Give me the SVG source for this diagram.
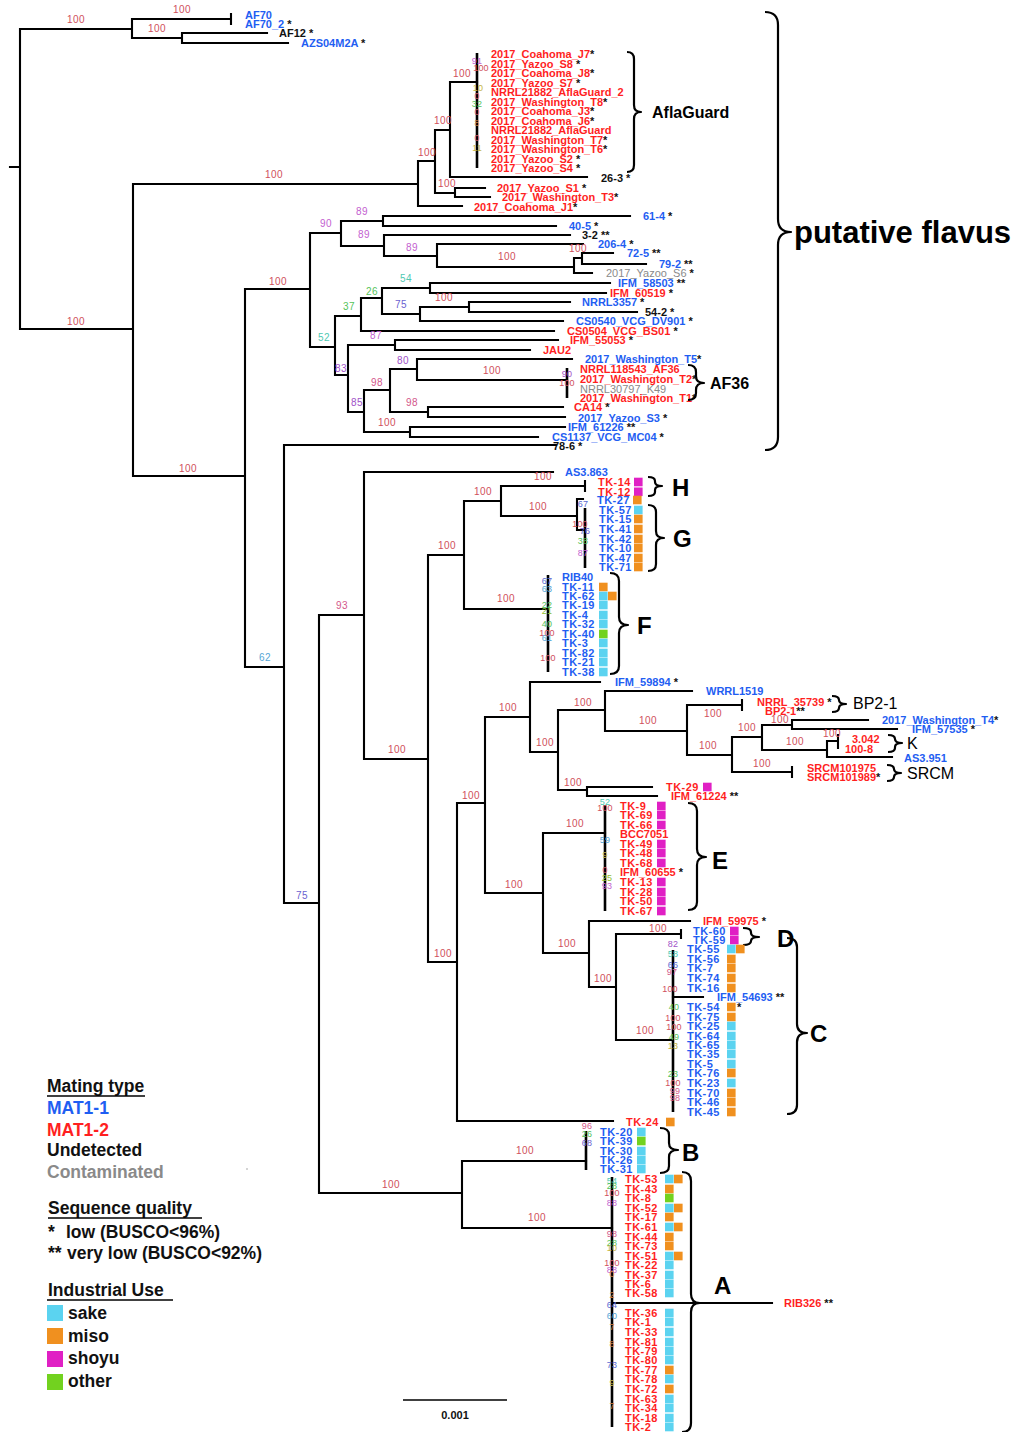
<svg xmlns="http://www.w3.org/2000/svg" xmlns:xlink="http://www.w3.org/1999/xlink" width="1021" height="1432" viewBox="0 0 1021 1432">
<style>
.l{font-family:"Liberation Sans",Arial,Helvetica,sans-serif;font-weight:bold;font-size:11px}
g[id^="n_TK"] text{letter-spacing:0.45px}
.lg{font-family:"Liberation Sans",Arial,Helvetica,sans-serif;font-size:11px;fill:#8a8a8a}
.b{fill:#1f5ef2}.r{fill:#ff1f1f}.k{fill:#111}.gy{fill:#8a8a8a}
.bs{font-family:"Liberation Sans",Arial,Helvetica,sans-serif;font-size:10px;text-anchor:middle;letter-spacing:0.5px}
.in .bs{font-size:9px;letter-spacing:0.2px}
.c0{fill:#d0505c}.pu{fill:#c35fd0}.vi{fill:#6a5fd0}.pp{fill:#a052c8}.pk{fill:#d3588a}.te{fill:#4fc9b2}.gr{fill:#55c35a}.lb{fill:#56a6d6}.bl{fill:#5a6ad2}.ol{fill:#c4b445}.or{fill:#d5803e}.yg{fill:#90c030}
.sk{fill:#5bd3f0}.mi{fill:#f0901f}.sh{fill:#e020c4}.ot{fill:#72d21f}
.tr{fill:none;stroke:#000;stroke-width:2.1;stroke-linecap:square}
.cl{fill:none;stroke:#000;stroke-width:2.6}
.br{fill:none;stroke:#000;stroke-width:2.2;stroke-linejoin:round}
.cap{font-family:"Liberation Sans",Arial,Helvetica,sans-serif;font-weight:bold;font-size:24px;fill:#000}
.cap2{font-family:"Liberation Sans",Arial,Helvetica,sans-serif;font-size:16px;fill:#000}
.cap3{font-family:"Liberation Sans",Arial,Helvetica,sans-serif;font-weight:bold;font-size:16px;fill:#000}
.lgd{font-family:"Liberation Sans",Arial,Helvetica,sans-serif;font-weight:bold;font-size:17.5px}
</style>
<defs><rect id="sq" width="8.6" height="8.6"/><rect id="lsq" width="16" height="16"/></defs>
<rect width="1021" height="1432" fill="#fff"/>

<g id="connectors">
<path class="tr" d="M10 167H20M20 29V329M20 29H132M132 19V38M132 19H231M231 14V24M132 38H182M182 33V43M182 33H267M182 43H288M20 329H133M133 184V476M133 184H418M418 161V206M418 161H435M435 130V193M435 130H450M450 82V177M450 82H477M450 177H587M435 193H455M455 188V197M455 188H485M455 197H490M418 206H462
M133 476H245M245 289V667M245 289H310M310 233V347M310 233H341M341 221V246M341 221H383M383 216V226M383 216H630M383 226H556M341 246H384M384 235V256M384 235H570M384 256H437M437 244V267M437 244H583M437 267H574M574 258V273M574 258H582M582 253V264M582 253H613M582 264H646M574 273H592
M310 347H335M335 316V375M335 316H361M361 298V331M361 298H382M382 288V314M382 288H430M430 283V293M430 283H610M430 293H606M382 314H420M420 307V321M420 307H469M469 302V312M469 302H570M469 312H637M420 321H563M361 331H554
M335 375H348M348 345V412M348 345H395M395 340V350M395 340H558M395 350H530M348 412H364M364 390V432M364 390H390M390 369V412M390 369H417M417 359V380M417 359H572M417 380H567M390 412H428M428 407V417M428 407H563M428 417H565M364 432H410M410 427V437M410 427H565M410 437H538
M245 667H284M284 445V903M284 445H556M284 903H319M319 615V1193M319 615H364M364 472V759M364 472H553M364 759H428M428 555V962M428 555H464M464 501V609M464 501H501M501 486V516M501 486H585M585 481V491M501 516H577M577 499V530M577 499H583M577 530H585M464 609H548
M428 962H457M457 803V1121M457 803H485M485 717V893M485 717H530M530 682V752M530 682H600M530 752H558M558 710V790M558 710H605M605 691V731M605 691H692M605 731H687M687 705V755M687 705H742M742 700V710M687 755H732M732 737V772M732 737H762M762 725V750M762 725H792M792 720V729M792 720H868M792 729H897M762 750H827M827 741V757M827 741H838M838 735V748M827 757H892M732 772H792M792 767V777M558 790H587M587 787V796M587 787H652M587 796H657
M485 893H543M543 833V953M543 833H605M543 953H589M589 921V987M589 921H690M589 987H616M616 934V1040M616 934H681M681 930V938M616 1040H673M673 997H703M457 1121H613M319 1193H462M462 1161V1228M462 1161H586M462 1228H612M612 1303H772"/>
<path class="cl" d="M477 53V168M567 368V398M585 508V568M548 575V672M605 805V911M673 950V1112M586 1131V1170M612 1177V1427"/>
<line x1="403" y1="1400" x2="507" y2="1400" stroke="#000" stroke-width="1.6"/>
</g>

<g id="support-values">
<text class="bs c0" x="182" y="12.5">100</text><text class="bs c0" x="157" y="31.5">100</text><text class="bs c0" x="76" y="22.5">100</text><text class="bs c0" x="76" y="324.5">100</text>
<text class="bs c0" x="274" y="177.5">100</text><text class="bs c0" x="427" y="155.5">100</text><text class="bs c0" x="443" y="123.5">100</text><text class="bs c0" x="462" y="76.5">100</text><text class="bs c0" x="447" y="186.5">100</text>
<text class="bs c0" x="188" y="471.5">100</text><text class="bs c0" x="278" y="284.5">100</text><text class="bs pu" x="326" y="226.5">90</text><text class="bs pu" x="362" y="214.5">89</text><text class="bs pu" x="364" y="237.5">89</text><text class="bs pu" x="412" y="250.5">89</text><text class="bs c0" x="507" y="259.5">100</text><text class="bs c0" x="578" y="251.5">100</text>
<text class="bs te" x="324" y="340.5">52</text><text class="bs gr" x="349" y="309.5">37</text><text class="bs gr" x="372" y="294.5">26</text><text class="bs te" x="406" y="281.5">54</text><text class="bs vi" x="401" y="307.5">75</text><text class="bs c0" x="444" y="300.5">100</text>
<text class="bs pu" x="376" y="338.5">87</text><text class="bs pp" x="341" y="371.5">83</text><text class="bs pp" x="357" y="405.5">85</text><text class="bs pk" x="377" y="385.5">98</text><text class="bs pp" x="403" y="363.5">80</text><text class="bs c0" x="492" y="373.5">100</text><text class="bs pk" x="412" y="405.5">98</text><text class="bs c0" x="387" y="425.5">100</text>
<text class="bs lb" x="265" y="660.5">62</text><text class="bs vi" x="302" y="898.5">75</text><text class="bs pk" x="342" y="608.5">93</text><text class="bs c0" x="397" y="752.5">100</text><text class="bs c0" x="447" y="548.5">100</text><text class="bs c0" x="483" y="494.5">100</text><text class="bs c0" x="543" y="479.5">100</text><text class="bs c0" x="538" y="509.5">100</text><text class="bs c0" x="506" y="601.5">100</text>
<text class="bs c0" x="443" y="956.5">100</text><text class="bs c0" x="471" y="798.5">100</text><text class="bs c0" x="508" y="710.5">100</text><text class="bs c0" x="545" y="745.5">100</text><text class="bs c0" x="583" y="705.5">100</text><text class="bs c0" x="648" y="723.5">100</text><text class="bs c0" x="713" y="716.5">100</text><text class="bs c0" x="708" y="748.5">100</text><text class="bs c0" x="747" y="730.5">100</text><text class="bs c0" x="780" y="722.5">100</text><text class="bs c0" x="795" y="744.5">100</text><text class="bs c0" x="832" y="736.5">100</text><text class="bs c0" x="762" y="766.5">100</text><text class="bs c0" x="573" y="785.5">100</text>
<text class="bs c0" x="514" y="887.5">100</text><text class="bs c0" x="575" y="826.5">100</text><text class="bs c0" x="567" y="946.5">100</text><text class="bs c0" x="603" y="981.5">100</text><text class="bs c0" x="658" y="931.5">100</text><text class="bs c0" x="645" y="1033.5">100</text><text class="bs c0" x="391" y="1187.5">100</text><text class="bs c0" x="525" y="1153.5">100</text><text class="bs c0" x="537" y="1220.5">100</text>
<g class="in">
<text class="bs pu" x="477" y="63.5">91</text><text class="bs c0" x="481" y="70.5">100</text><text class="bs ol" x="478" y="90.5">10</text><text class="bs c0" x="477" y="98.5">0</text><text class="bs gr" x="477" y="106.5">32</text><text class="bs c0" x="477" y="114.5">0</text><text class="bs or" x="477" y="125.5">8</text><text class="bs c0" x="477" y="140.5">0</text><text class="bs ol" x="477" y="150.5">11</text>
<text class="bs pp" x="567" y="376.5">90</text><text class="bs c0" x="567" y="385.5">100</text>
<text class="bs bl" x="583" y="506.5">67</text><text class="bs c0" x="580" y="526.5">100</text><text class="bs vi" x="585" y="533.5">76</text><text class="bs gr" x="583" y="543.5">38</text><text class="bs pu" x="583" y="555.5">87</text>
<text class="bs bl" x="547" y="583.5">67</text><text class="bs lb" x="547" y="591.5">63</text><text class="bs gr" x="547" y="607.5">22</text><text class="bs yg" x="547" y="613.5">21</text><text class="bs gr" x="547" y="626.5">40</text><text class="bs c0" x="547" y="635.5">100</text><text class="bs lb" x="547" y="640.5">61</text><text class="bs c0" x="548" y="660.5">100</text>
<text class="bs te" x="605" y="804.5">52</text><text class="bs c0" x="605" y="810.5">100</text><text class="bs lb" x="605" y="842.5">59</text><text class="bs ol" x="605" y="857.5">9</text><text class="bs c0" x="605" y="872.5">0</text><text class="bs yg" x="607" y="880.5">25</text><text class="bs pu" x="607" y="888.5">93</text>
<text class="bs pp" x="673" y="946.5">82</text><text class="bs te" x="673" y="956.5">58</text><text class="bs bl" x="673" y="967.5">66</text><text class="bs pk" x="672" y="974.5">97</text><text class="bs c0" x="670" y="991.5">100</text><text class="bs gr" x="674" y="1009.5">40</text><text class="bs c0" x="673" y="1020.5">100</text><text class="bs c0" x="674" y="1029.5">100</text><text class="bs gr" x="674" y="1039.5">49</text><text class="bs ol" x="673" y="1048.5">13</text><text class="bs gr" x="673" y="1076.5">23</text><text class="bs c0" x="673" y="1085.5">100</text><text class="bs pk" x="675" y="1093.5">99</text><text class="bs pk" x="675" y="1100.5">98</text>
<text class="bs pk" x="587" y="1128.5">96</text><text class="bs gr" x="587" y="1136.5">26</text><text class="bs vi" x="587" y="1145.5">68</text>
<text class="bs te" x="612" y="1183.5">54</text><text class="bs gr" x="612" y="1188.5">28</text><text class="bs c0" x="612" y="1195.5">100</text><text class="bs pu" x="612" y="1205.5">88</text><text class="bs pk" x="612" y="1236.5">98</text><text class="bs gr" x="612" y="1245.5">28</text><text class="bs ol" x="612" y="1250.5">10</text><text class="bs c0" x="612" y="1265.5">100</text><text class="bs pu" x="612" y="1272.5">88</text><text class="bs or" x="612" y="1276.5">0</text><text class="bs or" x="612" y="1297.5">2</text><text class="bs bl" x="612" y="1307.5">64</text><text class="bs lb" x="612" y="1318.5">60</text><text class="bs or" x="612" y="1329.5">7</text><text class="bs or" x="612" y="1346.5">8</text><text class="bs bl" x="612" y="1367.5">73</text><text class="bs ol" x="612" y="1385.5">9</text><text class="bs or" x="612" y="1408.5">7</text>
</g>
</g>

<g id="outgroup">
<g id="n_AF70"><text class="l b" x="245" y="19">AF70</text></g>
<g id="n_AF70_2"><text class="l b" x="245" y="28">AF70_2<tspan class="k"> *</tspan></text></g>
<g id="n_AF12"><text class="l k" x="279" y="37">AF12 *</text></g>
<g id="n_AZS04M2A"><text class="l b" x="301" y="47">AZS04M2A<tspan class="k"> *</tspan></text></g>
</g>

<g id="aflaguard-clade">
<g id="n_Coahoma_J7"><text class="l r" x="491" y="58">2017_Coahoma_J7<tspan class="k">*</tspan></text></g>
<g id="n_Yazoo_S8"><text class="l r" x="491" y="68">2017_Yazoo_S8<tspan class="k"> *</tspan></text></g>
<g id="n_Coahoma_J8"><text class="l r" x="491" y="77">2017_Coahoma_J8<tspan class="k">*</tspan></text></g>
<g id="n_Yazoo_S7"><text class="l r" x="491" y="87">2017_Yazoo_S7<tspan class="k"> *</tspan></text></g>
<g id="n_NRRL21882_AflaGuard_2"><text class="l r" x="491" y="96">NRRL21882_AflaGuard_2</text></g>
<g id="n_Washington_T8"><text class="l r" x="491" y="106">2017_Washington_T8<tspan class="k">*</tspan></text></g>
<g id="n_Coahoma_J3"><text class="l r" x="491" y="115">2017_Coahoma_J3<tspan class="k">*</tspan></text></g>
<g id="n_Coahoma_J6"><text class="l r" x="491" y="125">2017_Coahoma_J6<tspan class="k">*</tspan></text></g>
<g id="n_NRRL21882_AflaGuard"><text class="l r" x="491" y="134">NRRL21882_AflaGuard</text></g>
<g id="n_Washington_T7"><text class="l r" x="491" y="144">2017_Washington_T7<tspan class="k">*</tspan></text></g>
<g id="n_Washington_T6"><text class="l r" x="491" y="153">2017_Washington_T6<tspan class="k">*</tspan></text></g>
<g id="n_Yazoo_S2"><text class="l r" x="491" y="163">2017_Yazoo_S2<tspan class="k"> *</tspan></text></g>
<g id="n_Yazoo_S4"><text class="l r" x="491" y="172">2017_Yazoo_S4<tspan class="k"> *</tspan></text></g>
<g id="n_26-3"><text class="l k" x="601" y="182">26-3 *</text></g>
<g id="n_Yazoo_S1"><text class="l r" x="497" y="192">2017_Yazoo_S1<tspan class="k"> *</tspan></text></g>
<g id="n_Washington_T3"><text class="l r" x="502" y="201">2017_Washington_T3<tspan class="k">*</tspan></text></g>
<g id="n_Coahoma_J1"><text class="l r" x="474" y="211">2017_Coahoma_J1<tspan class="k">*</tspan></text></g>
<g id="lab_AflaGuard"><path class="br" d="M627 52Q634 52 634 59V105Q634 112 641 112Q634 112 634 119V165Q634 172 627 172"/><text class="cap3" x="652" y="118">AflaGuard</text></g>
</g>

<g id="flavus-rest">
<g id="n_61-4"><text class="l b" x="643" y="220">61-4<tspan class="k"> *</tspan></text></g>
<g id="n_40-5"><text class="l b" x="569" y="230">40-5<tspan class="k"> *</tspan></text></g>
<g id="n_3-2"><text class="l k" x="582" y="239">3-2 **</text></g>
<g id="n_206-4"><text class="l b" x="598" y="248">206-4<tspan class="k"> *</tspan></text></g>
<g id="n_72-5"><text class="l b" x="627" y="257">72-5<tspan class="k"> **</tspan></text></g>
<g id="n_79-2"><text class="l b" x="659" y="268">79-2<tspan class="k"> **</tspan></text></g>
<g id="n_Yazoo_S6"><text class="lg" x="606" y="277">2017_Yazoo_S6<tspan class="k" font-weight="bold"> *</tspan></text></g>
<g id="n_IFM_58503"><text class="l b" x="618" y="287">IFM_58503<tspan class="k"> **</tspan></text></g>
<g id="n_IFM_60519"><text class="l r" x="610" y="297">IFM_60519<tspan class="k"> *</tspan></text></g>
<g id="n_NRRL3357"><text class="l b" x="582" y="306">NRRL3357<tspan class="k"> *</tspan></text></g>
<g id="n_54-2"><text class="l k" x="645" y="316">54-2 *</text></g>
<g id="n_CS0540"><text class="l b" x="576" y="325">CS0540_VCG_DV901<tspan class="k"> *</tspan></text></g>
<g id="n_CS0504"><text class="l r" x="567" y="335">CS0504_VCG_BS01<tspan class="k"> *</tspan></text></g>
<g id="n_IFM_55053"><text class="l r" x="570" y="344">IFM_55053<tspan class="k"> *</tspan></text></g>
<g id="n_JAU2"><text class="l r" x="543" y="354">JAU2</text></g>
<g id="n_Washington_T5"><text class="l b" x="585" y="363">2017_Washington_T5<tspan class="k">*</tspan></text></g>
<g id="n_NRRL118543_AF36"><text class="l r" x="580" y="373">NRRL118543_AF36</text></g>
<g id="n_Washington_T2"><text class="l r" x="580" y="383">2017_Washington_T2<tspan class="k">*</tspan></text></g>
<g id="n_NRRL30797_K49"><text class="lg" x="580" y="393">NRRL30797_K49</text></g>
<g id="n_Washington_T1"><text class="l r" x="580" y="402">2017_Washington_T1<tspan class="k">*</tspan></text></g>
<g id="lab_AF36"><path class="br" d="M688 365Q696 365 696 372V376Q696 383 704 383Q696 383 696 390V393Q696 400 688 400"/><text class="cap3" x="710" y="389">AF36</text></g>
<g id="n_CA14"><text class="l r" x="574" y="411">CA14<tspan class="k"> *</tspan></text></g>
<g id="n_Yazoo_S3"><text class="l b" x="578" y="422">2017_Yazoo_S3<tspan class="k"> *</tspan></text></g>
<g id="n_IFM_61226"><text class="l b" x="568" y="431">IFM_61226<tspan class="k"> **</tspan></text></g>
<g id="n_CS1137"><text class="l b" x="552" y="441">CS1137_VCG_MC04<tspan class="k"> *</tspan></text></g>
<g id="n_78-6"><text class="l k" x="553" y="450">78-6 *</text></g>
<g id="lab_putative_flavus"><path class="br" stroke-width="2.6" d="M765 12Q778 12 778 25V219Q778 232 791 232Q778 232 778 245V437Q778 450 765 450"/><text font-family="Liberation Sans, Arial, Helvetica, sans-serif" font-weight="bold" font-size="31" x="794" y="243">putative flavus</text></g>
</g>

<g id="oryzae-HGF">
<g id="n_AS3.863"><text class="l b" x="565" y="476">AS3.863</text></g>
<g id="n_TK-14"><text class="l r" x="598" y="486">TK-14</text><use href="#sq" class="sh" x="634" y="477.7"/></g>
<g id="n_TK-12"><text class="l r" x="598" y="496">TK-12</text><use href="#sq" class="sh" x="634" y="487.5"/></g>
<g id="lab_H"><path class="br" d="M648 477Q655 477 655 481V482Q655 486 662 486Q655 486 655 490V492Q655 496 648 496"/><text class="cap" x="672" y="496">H</text></g>
<g id="n_TK-27"><text class="l b" x="597" y="504">TK-27</text><use href="#sq" class="mi" x="633" y="495.7"/></g>
<g id="n_TK-57"><text class="l b" x="599" y="514">TK-57</text><use href="#sq" class="sk" x="634" y="505.7"/></g>
<g id="n_TK-15"><text class="l b" x="599" y="523">TK-15</text><use href="#sq" class="mi" x="634" y="514.7"/></g>
<g id="n_TK-41"><text class="l b" x="599" y="533">TK-41</text><use href="#sq" class="mi" x="634" y="524.7"/></g>
<g id="n_TK-42"><text class="l b" x="599" y="543">TK-42</text><use href="#sq" class="mi" x="634" y="534.7"/></g>
<g id="n_TK-10"><text class="l b" x="599" y="552">TK-10</text><use href="#sq" class="mi" x="634" y="543.7"/></g>
<g id="n_TK-47"><text class="l b" x="599" y="562">TK-47</text><use href="#sq" class="mi" x="634" y="553.7"/></g>
<g id="n_TK-71"><text class="l b" x="599" y="571">TK-71</text><use href="#sq" class="mi" x="634" y="562.7"/></g>
<g id="lab_G"><path class="br" d="M648 505Q656 505 656 512V531Q656 538 664 538Q656 538 656 545V564Q656 571 648 571"/><text class="cap" x="673" y="547">G</text></g>
<g id="n_RIB40"><text class="l b" x="562" y="581">RIB40</text></g>
<g id="n_TK-11"><text class="l b" x="562" y="591">TK-11</text><use href="#sq" class="mi" x="599" y="582.7"/></g>
<g id="n_TK-62"><text class="l b" x="562" y="600">TK-62</text><use href="#sq" class="sk" x="599" y="591.7"/><use href="#sq" class="mi" x="608" y="591.7"/></g>
<g id="n_TK-19"><text class="l b" x="562" y="609">TK-19</text><use href="#sq" class="sk" x="599" y="600.7"/></g>
<g id="n_TK-4"><text class="l b" x="562" y="619">TK-4</text><use href="#sq" class="sk" x="599" y="610.7"/></g>
<g id="n_TK-32"><text class="l b" x="562" y="628">TK-32</text><use href="#sq" class="sk" x="599" y="619.7"/></g>
<g id="n_TK-40"><text class="l b" x="562" y="638">TK-40</text><use href="#sq" class="ot" x="599" y="629.7"/></g>
<g id="n_TK-3"><text class="l b" x="562" y="647">TK-3</text><use href="#sq" class="sk" x="599" y="638.7"/></g>
<g id="n_TK-82"><text class="l b" x="562" y="657">TK-82</text><use href="#sq" class="sk" x="599" y="648.7"/></g>
<g id="n_TK-21"><text class="l b" x="562" y="666">TK-21</text><use href="#sq" class="sk" x="599" y="657.7"/></g>
<g id="n_TK-38"><text class="l b" x="562" y="676">TK-38</text><use href="#sq" class="sk" x="599" y="667.7"/></g>
<g id="lab_F"><path class="br" d="M610 573Q619 573 619 581V617Q619 625 628 625Q619 625 619 633V666Q619 674 610 674"/><text class="cap" x="637" y="634">F</text></g>
</g>

<g id="sojae-group">
<g id="n_IFM_59894"><text class="l b" x="615" y="686">IFM_59894<tspan class="k"> *</tspan></text></g>
<g id="n_WRRL1519"><text class="l b" x="706" y="695">WRRL1519</text></g>
<g id="n_NRRL_35739"><text class="l r" x="757" y="706">NRRL_35739<tspan class="k"> *</tspan></text></g>
<g id="n_BP2-1"><text class="l r" x="765" y="715">BP2-1<tspan class="k">**</tspan></text></g>
<g id="lab_BP2-1"><path class="br" d="M832 696Q839 696 839 700Q839 704 846 704Q839 704 839 708Q839 712 832 712"/><text class="cap2" x="853" y="709">BP2-1</text></g>
<g id="n_Washington_T4"><text class="l b" x="882" y="724">2017_Washington_T4<tspan class="k">*</tspan></text></g>
<g id="n_IFM_57535"><text class="l b" x="912" y="733">IFM_57535<tspan class="k"> *</tspan></text></g>
<g id="n_3_042"><text class="l r" x="852" y="743">3.042</text></g>
<g id="n_100-8"><text class="l r" x="845" y="753">100-8</text></g>
<g id="lab_K"><path class="br" d="M888 735Q895 735 895 739Q895 743 902 743Q895 743 895 747V748Q895 752 888 752"/><text class="cap2" x="907" y="749">K</text></g>
<g id="n_AS3.951"><text class="l b" x="904" y="762">AS3.951</text></g>
<g id="n_SRCM101975"><text class="l r" x="807" y="772">SRCM101975</text></g>
<g id="n_SRCM101989"><text class="l r" x="807" y="781">SRCM101989<tspan class="k">*</tspan></text></g>
<g id="lab_SRCM"><path class="br" d="M887 765Q894 765 894 769Q894 773 901 773Q894 773 894 777Q894 781 887 781"/><text class="cap2" x="907" y="779">SRCM</text></g>
<g id="n_TK-29"><text class="l r" x="666" y="791">TK-29</text><use href="#sq" class="sh" x="703" y="782.7"/></g>
<g id="n_IFM_61224"><text class="l r" x="671" y="800">IFM_61224<tspan class="k"> **</tspan></text></g>
</g>

<g id="clade-E">
<g id="n_TK-9"><text class="l r" x="620" y="810">TK-9</text><use href="#sq" class="sh" x="657" y="801.7"/></g>
<g id="n_TK-69"><text class="l r" x="620" y="819">TK-69</text><use href="#sq" class="sh" x="657" y="810.7"/></g>
<g id="n_TK-66"><text class="l r" x="620" y="829">TK-66</text><use href="#sq" class="sh" x="657" y="820.7"/></g>
<g id="n_BCC7051"><text class="l r" x="620" y="838">BCC7051</text></g>
<g id="n_TK-49"><text class="l r" x="620" y="848">TK-49</text><use href="#sq" class="sh" x="657" y="839.7"/></g>
<g id="n_TK-48"><text class="l r" x="620" y="857">TK-48</text><use href="#sq" class="sh" x="657" y="848.7"/></g>
<g id="n_TK-68"><text class="l r" x="620" y="867">TK-68</text><use href="#sq" class="sh" x="657" y="858.7"/></g>
<g id="n_IFM_60655"><text class="l r" x="620" y="876">IFM_60655<tspan class="k"> *</tspan></text></g>
<g id="n_TK-13"><text class="l r" x="620" y="886">TK-13</text><use href="#sq" class="sh" x="657" y="877.7"/></g>
<g id="n_TK-28"><text class="l r" x="620" y="896">TK-28</text><use href="#sq" class="sh" x="657" y="887.7"/></g>
<g id="n_TK-50"><text class="l r" x="620" y="905">TK-50</text><use href="#sq" class="sh" x="657" y="896.7"/></g>
<g id="n_TK-67"><text class="l r" x="620" y="915">TK-67</text><use href="#sq" class="sh" x="657" y="906.7"/></g>
<g id="lab_E"><path class="br" d="M688 803Q697 803 697 811V849Q697 857 706 857Q697 857 697 865V902Q697 910 688 910"/><text class="cap" x="712" y="869">E</text></g>
</g>

<g id="clade-DC">
<g id="n_IFM_59975"><text class="l r" x="703" y="925">IFM_59975<tspan class="k"> *</tspan></text></g>
<g id="n_TK-60"><text class="l b" x="693" y="935">TK-60</text><use href="#sq" class="sh" x="730" y="926.7"/></g>
<g id="n_TK-59"><text class="l b" x="693" y="944">TK-59</text><use href="#sq" class="sh" x="730" y="935.7"/></g>
<g id="lab_D"><path class="br" d="M743 928Q751 928 751 932V933Q751 937 759 937Q751 937 751 941Q751 945 743 945"/><text class="cap" x="777" y="947">D</text></g>
<g id="n_TK-55"><text class="l b" x="687" y="953">TK-55</text><use href="#sq" class="sk" x="727" y="944.7"/><use href="#sq" class="mi" x="736" y="944.7"/></g>
<g id="n_TK-56"><text class="l b" x="687" y="963">TK-56</text><use href="#sq" class="mi" x="727" y="954.7"/></g>
<g id="n_TK-7"><text class="l b" x="687" y="972">TK-7</text><use href="#sq" class="mi" x="727" y="963.7"/></g>
<g id="n_TK-74"><text class="l b" x="687" y="982">TK-74</text><use href="#sq" class="mi" x="727" y="973.7"/></g>
<g id="n_TK-16"><text class="l b" x="687" y="992">TK-16</text><use href="#sq" class="mi" x="727" y="983.7"/></g>
<g id="n_IFM_54693"><text class="l b" x="717" y="1001">IFM_54693<tspan class="k"> **</tspan></text></g>
<g id="n_TK-54"><text class="l b" x="687" y="1011">TK-54</text><use href="#sq" class="mi" x="727" y="1002.7"/><text class="l k" x="737" y="1011">*</text></g>
<g id="n_TK-75"><text class="l b" x="687" y="1021">TK-75</text><use href="#sq" class="mi" x="727" y="1012.7"/></g>
<g id="n_TK-25"><text class="l b" x="687" y="1030">TK-25</text><use href="#sq" class="sk" x="727" y="1021.7"/></g>
<g id="n_TK-64"><text class="l b" x="687" y="1040">TK-64</text><use href="#sq" class="sk" x="727" y="1031.7"/></g>
<g id="n_TK-65"><text class="l b" x="687" y="1049">TK-65</text><use href="#sq" class="sk" x="727" y="1040.7"/></g>
<g id="n_TK-35"><text class="l b" x="687" y="1058">TK-35</text><use href="#sq" class="sk" x="727" y="1049.7"/></g>
<g id="n_TK-5"><text class="l b" x="687" y="1068">TK-5</text><use href="#sq" class="sk" x="727" y="1059.7"/></g>
<g id="n_TK-76"><text class="l b" x="687" y="1077">TK-76</text><use href="#sq" class="mi" x="727" y="1068.7"/></g>
<g id="n_TK-23"><text class="l b" x="687" y="1087">TK-23</text><use href="#sq" class="sk" x="727" y="1078.7"/></g>
<g id="n_TK-70"><text class="l b" x="687" y="1097">TK-70</text><use href="#sq" class="mi" x="727" y="1088.7"/></g>
<g id="n_TK-46"><text class="l b" x="687" y="1106">TK-46</text><use href="#sq" class="mi" x="727" y="1097.7"/></g>
<g id="n_TK-45"><text class="l b" x="687" y="1116">TK-45</text><use href="#sq" class="mi" x="727" y="1107.7"/></g>
<g id="lab_C"><path class="br" d="M787 938Q797 938 797 947V1024Q797 1033 807 1033Q797 1033 797 1042V1105Q797 1114 787 1114"/><text class="cap" x="810" y="1042">C</text></g>
<g id="n_TK-24"><text class="l r" x="626" y="1126">TK-24</text><use href="#sq" class="mi" x="666" y="1117.7"/></g>
</g>

<g id="clade-B">
<g id="n_TK-20"><text class="l b" x="600" y="1136">TK-20</text><use href="#sq" class="sk" x="637" y="1127.7"/></g>
<g id="n_TK-39"><text class="l b" x="600" y="1145">TK-39</text><use href="#sq" class="ot" x="637" y="1136.7"/></g>
<g id="n_TK-30"><text class="l b" x="600" y="1155">TK-30</text><use href="#sq" class="sk" x="637" y="1146.7"/></g>
<g id="n_TK-26"><text class="l b" x="600" y="1164">TK-26</text><use href="#sq" class="sk" x="637" y="1155.7"/></g>
<g id="n_TK-31"><text class="l b" x="600" y="1173">TK-31</text><use href="#sq" class="sk" x="637" y="1164.7"/></g>
<g id="lab_B"><path class="br" d="M660 1128Q669 1128 669 1135V1143Q669 1150 678 1150Q669 1150 669 1157V1166Q669 1173 660 1173"/><text class="cap" x="682" y="1161">B</text></g>
</g>

<g id="clade-A">
<g id="n_TK-53"><text class="l r" x="625" y="1183">TK-53</text><use href="#sq" class="sk" x="665" y="1174.7"/><use href="#sq" class="mi" x="674" y="1174.7"/></g>
<g id="n_TK-43"><text class="l r" x="625" y="1193">TK-43</text><use href="#sq" class="mi" x="665" y="1184.7"/></g>
<g id="n_TK-8"><text class="l r" x="625" y="1202">TK-8</text><use href="#sq" class="ot" x="665" y="1193.7"/></g>
<g id="n_TK-52"><text class="l r" x="625" y="1212">TK-52</text><use href="#sq" class="sk" x="665" y="1203.7"/><use href="#sq" class="mi" x="674" y="1203.7"/></g>
<g id="n_TK-17"><text class="l r" x="625" y="1221">TK-17</text><use href="#sq" class="mi" x="665" y="1212.7"/></g>
<g id="n_TK-61"><text class="l r" x="625" y="1231">TK-61</text><use href="#sq" class="sk" x="665" y="1222.7"/><use href="#sq" class="mi" x="674" y="1222.7"/></g>
<g id="n_TK-44"><text class="l r" x="625" y="1241">TK-44</text><use href="#sq" class="mi" x="665" y="1232.7"/></g>
<g id="n_TK-73"><text class="l r" x="625" y="1250">TK-73</text><use href="#sq" class="mi" x="665" y="1241.7"/></g>
<g id="n_TK-51"><text class="l r" x="625" y="1260">TK-51</text><use href="#sq" class="sk" x="665" y="1251.7"/><use href="#sq" class="mi" x="674" y="1251.7"/></g>
<g id="n_TK-22"><text class="l r" x="625" y="1269">TK-22</text><use href="#sq" class="sk" x="665" y="1260.7"/></g>
<g id="n_TK-37"><text class="l r" x="625" y="1279">TK-37</text><use href="#sq" class="sk" x="665" y="1270.7"/></g>
<g id="n_TK-6"><text class="l r" x="625" y="1288">TK-6</text><use href="#sq" class="sk" x="665" y="1279.7"/></g>
<g id="n_TK-58"><text class="l r" x="625" y="1297">TK-58</text><use href="#sq" class="sk" x="665" y="1288.7"/></g>
<g id="n_TK-36"><text class="l r" x="625" y="1317">TK-36</text><use href="#sq" class="sk" x="665" y="1308.7"/></g>
<g id="n_TK-1"><text class="l r" x="625" y="1326">TK-1</text><use href="#sq" class="sk" x="665" y="1317.7"/></g>
<g id="n_TK-33"><text class="l r" x="625" y="1336">TK-33</text><use href="#sq" class="sk" x="665" y="1327.7"/></g>
<g id="n_TK-81"><text class="l r" x="625" y="1346">TK-81</text><use href="#sq" class="sk" x="665" y="1337.7"/></g>
<g id="n_TK-79"><text class="l r" x="625" y="1355">TK-79</text><use href="#sq" class="sk" x="665" y="1346.7"/></g>
<g id="n_TK-80"><text class="l r" x="625" y="1364">TK-80</text><use href="#sq" class="sk" x="665" y="1355.7"/></g>
<g id="n_TK-77"><text class="l r" x="625" y="1374">TK-77</text><use href="#sq" class="mi" x="665" y="1365.7"/></g>
<g id="n_TK-78"><text class="l r" x="625" y="1383">TK-78</text><use href="#sq" class="sk" x="665" y="1374.7"/></g>
<g id="n_TK-72"><text class="l r" x="625" y="1393">TK-72</text><use href="#sq" class="mi" x="665" y="1384.7"/></g>
<g id="n_TK-63"><text class="l r" x="625" y="1403">TK-63</text><use href="#sq" class="sk" x="665" y="1394.7"/></g>
<g id="n_TK-34"><text class="l r" x="625" y="1412">TK-34</text><use href="#sq" class="sk" x="665" y="1403.7"/></g>
<g id="n_TK-18"><text class="l r" x="625" y="1422">TK-18</text><use href="#sq" class="sk" x="665" y="1413.7"/></g>
<g id="n_TK-2"><text class="l r" x="625" y="1431">TK-2</text><use href="#sq" class="sk" x="665" y="1422.7"/></g>
<g id="lab_A"><path class="br" d="M682 1172Q691 1172 691 1181V1294Q691 1303 700 1303Q691 1303 691 1312V1423Q691 1432 682 1432"/><text class="cap" x="714" y="1294">A</text></g>
<g id="n_RIB326"><text class="l r" x="784" y="1307">RIB326<tspan class="k"> **</tspan></text></g>
</g>

<g id="scale-bar"><text class="l k" font-size="12" x="455" y="1419" text-anchor="middle">0.001</text></g>

<g id="legend">
<text class="lgd k" x="47" y="1092">Mating type</text>
<line x1="47" y1="1096" x2="145" y2="1096" stroke="#000" stroke-width="1.5"/>
<text class="lgd b" x="47" y="1114">MAT1-1</text>
<text class="lgd r" x="47" y="1136">MAT1-2</text>
<text class="lgd k" x="47" y="1156">Undetected</text>
<text class="lgd gy" x="47" y="1178">Contaminated</text>
<circle cx="247" cy="1169" r="0.7" fill="#888"/>
<text class="lgd k" x="48" y="1214">Sequence quality</text>
<line x1="48" y1="1218" x2="202" y2="1218" stroke="#000" stroke-width="1.5"/>
<text class="lgd k" x="48" y="1238">*<tspan x="66">low (BUSCO&lt;96%)</tspan></text>
<text class="lgd k" x="48" y="1259">**<tspan x="67">very low (BUSCO&lt;92%)</tspan></text>
<text class="lgd k" x="48" y="1296">Industrial Use</text>
<line x1="47" y1="1300" x2="173" y2="1300" stroke="#000" stroke-width="1.5"/>
<use href="#lsq" class="sk" x="47" y="1305"/><text class="lgd k" x="68" y="1319">sake</text>
<use href="#lsq" class="mi" x="47" y="1328"/><text class="lgd k" x="68" y="1342">miso</text>
<use href="#lsq" class="sh" x="47" y="1351"/><text class="lgd k" x="68" y="1364">shoyu</text>
<use href="#lsq" class="ot" x="47" y="1374"/><text class="lgd k" x="68" y="1387">other</text>
</g>
</svg>
